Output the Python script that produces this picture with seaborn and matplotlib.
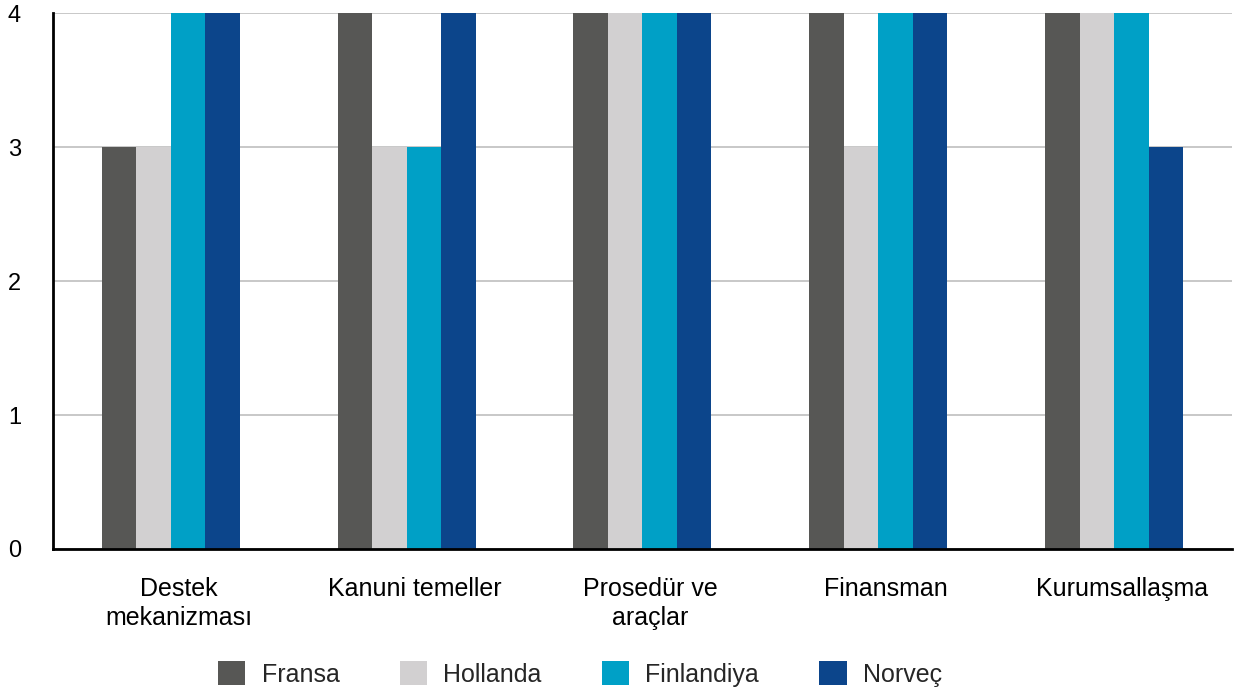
import matplotlib
matplotlib.use("Agg")
import matplotlib.pyplot as plt
from matplotlib.ticker import FixedLocator
from matplotlib.transforms import ScaledTranslation
import seaborn as sns
import pandas as pd

categories = ["Destek\nmekanizması", "Kanuni temeller", "Prosedür ve\naraçlar",
              "Finansman", "Kurumsallaşma"]
countries = ["Fransa", "Hollanda", "Finlandiya", "Norveç"]
fransa = [3, 4, 4, 4, 4]
hollanda = [3, 3, 4, 3, 4]
finlandiya = [4, 3, 4, 4, 4]
norvec = [4, 4, 4, 4, 3]
colors = ["#575755", "#d2d0d1", "#00a0c6", "#0c458b"]

series = {"Fransa": fransa, "Hollanda": hollanda, "Finlandiya": finlandiya, "Norveç": norvec}
rows = []
for c in countries:
    for cat, v in zip(categories, series[c]):
        rows.append({"Kategori": cat, "Ülke": c, "Puan": v})
df = pd.DataFrame(rows)

sns.set_theme(style="white")
plt.rcParams["font.family"] = ["Liberation Sans", "DejaVu Sans"]

fig = plt.figure(figsize=(12.4, 6.93), dpi=100)
ax = fig.add_axes([0.0427, 0.2078, 0.9508, 0.7734])

sns.barplot(data=df, x="Kategori", y="Puan", hue="Ülke", order=categories,
            hue_order=countries, palette=colors, width=0.585, gap=0,
            saturation=1, errorbar=None, ax=ax, zorder=3, linewidth=0)

ax.set_ylim(0, 4)
ax.set_xlim(-0.5, len(categories) - 0.5)
ax.set_yticks([0, 1, 2, 3, 4])
ax.set_xlabel("")
ax.set_ylabel("")

ax.yaxis.grid(True, color="#c4c4c4", linewidth=1.3, zorder=0)
ax.xaxis.grid(False)
ax.set_axisbelow(True)

for s in ["top", "right"]:
    ax.spines[s].set_visible(False)
for s in ["left", "bottom"]:
    ax.spines[s].set_color("black")
    ax.spines[s].set_linewidth(2)
    ax.spines[s].set_zorder(4)

ax.tick_params(axis="x", which="major", length=0, pad=20, labelsize=18, colors="black")
ax.tick_params(axis="y", which="major", length=0, pad=23, labelsize=17, colors="black")
shift = ScaledTranslation(8 / 100, 0, fig.dpi_scale_trans)
for lbl in ax.get_xticklabels():
    lbl.set_linespacing(1.3)
    lbl.set_transform(lbl.get_transform() + shift)
ax.xaxis.set_minor_locator(FixedLocator([i - 0.5 for i in range(len(categories) + 1)]))
ax.tick_params(axis="x", which="minor", direction="inout", length=13, width=1.6, color="black")

leg = ax.legend(loc="center", bbox_to_anchor=(0.447, -0.233), ncol=4, frameon=False,
                fontsize=18, handlelength=1.1, handleheight=1.1, handletextpad=0.65,
                columnspacing=2.4)

fig.savefig("out.png", dpi=100)
